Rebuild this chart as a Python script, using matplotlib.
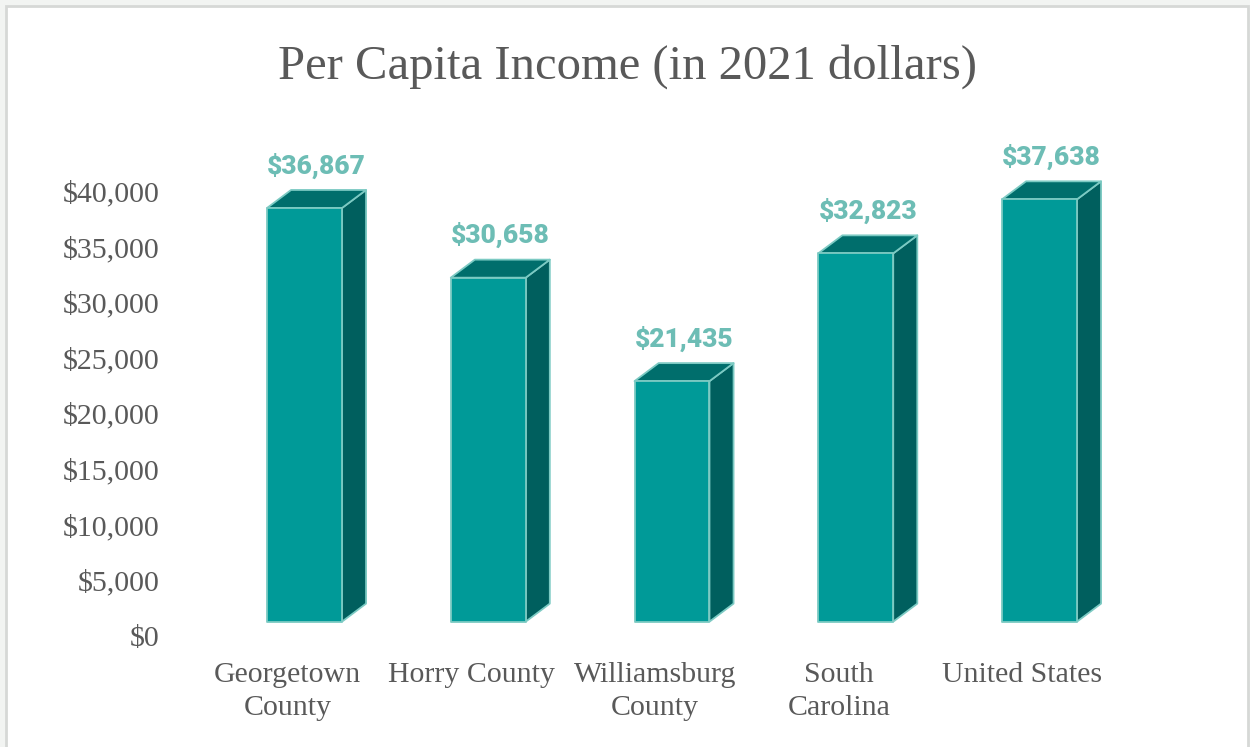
import matplotlib
matplotlib.use("Agg")
import matplotlib.pyplot as plt
from matplotlib.patches import Polygon, Rectangle

# data
categories = ["Georgetown\nCounty", "Horry County", "Williamsburg\nCounty",
              "South\nCarolina", "United States"]
values = [36867, 30658, 21435, 32823, 37638]
yticks = [0, 5000, 10000, 15000, 20000, 25000, 30000, 35000, 40000]
ytick_labels = ["$0", "$5,000", "$10,000", "$15,000", "$20,000",
                "$25,000", "$30,000", "$35,000", "$40,000"]
title = "Per Capita Income (in 2021 dollars)"

# style
FRONT = "#009A98"
TOP = "#006E6C"
SIDE = "#005F5E"
EDGE = "#7CCAC3"
LABEL = "#6DBDB5"
TEXT = "#595959"

# pseudo 3d geometry (data units)
HALF_W = 0.204
DX = 0.131
DY = 1620
LIFT = 1290
SCALE = 1.0085

fig = plt.figure(figsize=(12.5, 7.47), dpi=100)
fig.patch.set_facecolor("#F2F4F2")
fig.patches.append(Rectangle((6 / 1250, -0.05), 1242 / 1250, 1.05 - 6 / 747,
                             transform=fig.transFigure, facecolor="white",
                             edgecolor="#D6D8D6", linewidth=2, zorder=-5))

ax = fig.add_axes([0.1701, 0.1486, 0.735, 0.6702])
ax.set_zorder(2)
ax.set_xlim(-0.5, len(values) - 0.5)
ax.set_ylim(0, 45000)
ax.patch.set_alpha(0)
for s in ax.spines.values():
    s.set_visible(False)

for i, v in enumerate(values):
    x0, x1 = i - HALF_W, i + HALF_W
    yb = LIFT
    yt = LIFT + v * SCALE
    side = [(x1, yb), (x1, yt), (x1 + DX, yt + DY), (x1 + DX, yb + DY)]
    top = [(x0, yt), (x1, yt), (x1 + DX, yt + DY), (x0 + DX, yt + DY)]
    front = [(x0, yb), (x1, yb), (x1, yt), (x0, yt)]
    for pts, col in ((side, SIDE), (top, TOP), (front, FRONT)):
        ax.add_patch(Polygon(pts, closed=True, facecolor=col, edgecolor=EDGE,
                             linewidth=1.3, joinstyle="round", clip_on=False))
    ax.text(i + 0.065, yt + DY + 2200, f"${v:,}", ha="center", va="center",
            fontsize=19, fontweight="black", family="Roboto", color=LABEL,
            clip_on=False)

ax.set_yticks(yticks, ytick_labels)
ax.set_xticks([i - 0.0925 for i in range(len(categories))], categories)
ax.tick_params(axis="y", length=0, pad=38, labelsize=21.5, labelcolor=TEXT)
ax.tick_params(axis="x", length=0, pad=19, labelsize=21.5, labelcolor=TEXT)
for lbl in ax.get_yticklabels() + ax.get_xticklabels():
    lbl.set_family("Liberation Serif")
for lbl in ax.get_xticklabels():
    lbl.set_linespacing(1.35)

fig.text(0.5016, 1 - 79 / 747, title, ha="center", va="baseline",
         fontsize=35, family="Liberation Serif", color=TEXT, zorder=3)

fig.savefig("out.png", dpi=100, facecolor=fig.get_facecolor())
